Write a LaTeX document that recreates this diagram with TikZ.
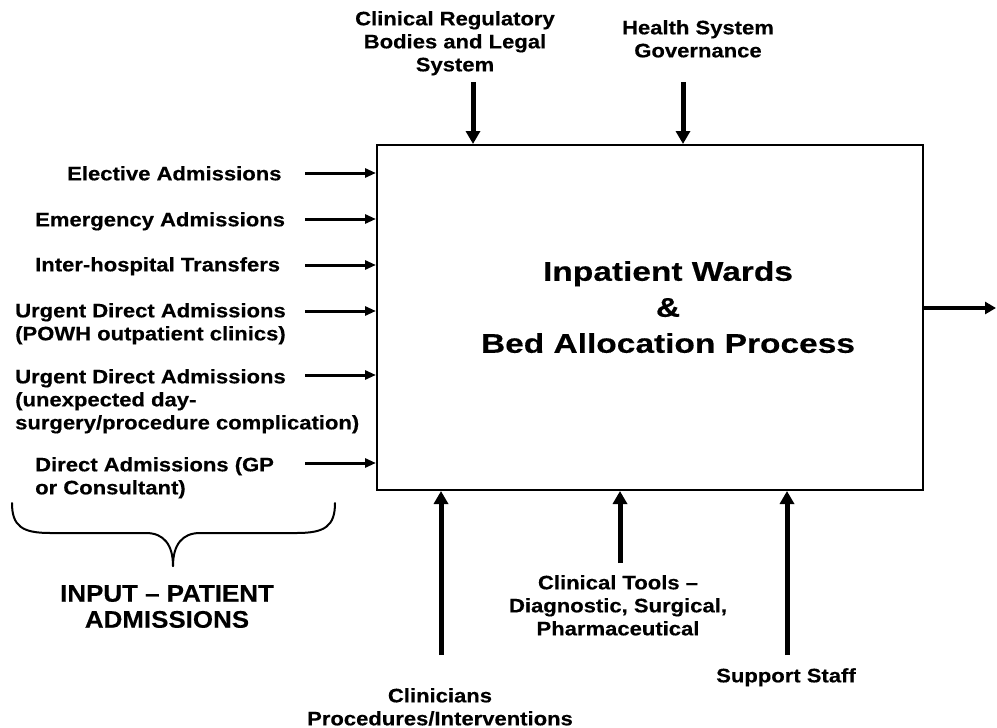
\documentclass[tikz,border=0pt]{standalone}
\usepackage{fontspec}
\setmainfont{Liberation Sans}
\newfontfamily\lblfont[FakeStretch=1.13,FakeBold=0.4]{Liberation Sans}
\newfontfamily\bigfont[FakeStretch=1.24,FakeBold=0.4]{Liberation Sans}
\newfontfamily\inpfont[FakeStretch=1.08,FakeBold=0.4]{Liberation Sans}
\usetikzlibrary{arrows.meta}
\begin{document}
\begin{tikzpicture}[x=1pt,y=-1pt,
  lbl/.style={inner sep=0pt, font=\lblfont\bfseries\fontsize{19.5}{23}\selectfont},
  lblL/.style={lbl, anchor=north west, align=left},
  lblC/.style={lbl, anchor=north, align=center},
  bigtxt/.style={inner sep=0pt, anchor=north, align=center, font=\bigfont\bfseries\fontsize{27}{36}\selectfont},
  inptxt/.style={inner sep=0pt, anchor=north, align=center, font=\inpfont\bfseries\fontsize{24}{26}\selectfont},
  procbox/.style={draw, line width=2pt, inner sep=0pt, minimum width=546pt, minimum height=345pt},
  inarrow/.style={line width=3pt, -{Triangle[length=11pt,width=9pt]}},
  ctlarrow/.style={line width=5pt, -{Triangle[length=13pt,width=14pt]}},
  outarrow/.style={line width=4pt, -{Triangle[length=11pt,width=12pt]}},
  bracestyle/.style={line width=2pt, line cap=round, line join=round}
]
\useasboundingbox (0,0) rectangle (997,728);

% main process box
\node[procbox] (box) at (650,317.5) {};
\node[bigtxt] (title) at (668,261) {Inpatient Wards\\\&\\Bed Allocation Process};

% input labels
\node[lblL] (elec) at (67,166) {Elective Admissions};
\node[lblL] (emer) at (35,212) {Emergency Admissions};
\node[lblL] (inter) at (35,257) {Inter-hospital Transfers};
\node[lblL] (urg1) at (15,303) {Urgent Direct Admissions\\(POWH outpatient clinics)};
\node[lblL] (urg2) at (15,369) {Urgent Direct Admissions\\(unexpected day-\\surgery/procedure complication)};
\node[lblL] (direct) at (35,457) {Direct  Admissions (GP\\or Consultant)};

% input arrows
\coordinate (i1) at (305,173);
\coordinate (i2) at (305,219);
\coordinate (i3) at (305,265);
\coordinate (i4) at (305,311);
\coordinate (i5) at (305,375);
\coordinate (i6) at (305,463);
\foreach \c in {i1,i2,i3,i4,i5,i6}
  \draw[inarrow] (\c) -- (\c -| box.west);

% brace
\coordinate (brL) at (12,503);
\coordinate (brR) at (335,503);
\coordinate (brT) at (173,566);
\draw[bracestyle] (brL) .. controls (12,526) and (22,533) .. (50,533) -- (146,533)
  .. controls (164,533) and (173,545) .. (brT);
\draw[bracestyle] (brR) .. controls (335,526) and (325,533) .. (297,533) -- (200,533)
  .. controls (182,533) and (173,545) .. (brT);
\node[inptxt] (inp) at (167,585) {INPUT – PATIENT\\ADMISSIONS};

% controls (top)
\node[lblC] (reg) at (455,11) {Clinical Regulatory\\Bodies and Legal\\System};
\node[lblC] (gov) at (698,20) {Health System\\Governance};
\coordinate (t1) at (473,82);
\coordinate (t2) at (683,82);
\draw[ctlarrow] (t1) -- (t1 |- box.north);
\draw[ctlarrow] (t2) -- (t2 |- box.north);

% mechanisms (bottom)
\coordinate (b1) at (441,655);
\coordinate (b2) at (620,563);
\coordinate (b3) at (787,655);
\draw[ctlarrow] (b1) -- (b1 |- box.south);
\draw[ctlarrow] (b2) -- (b2 |- box.south);
\draw[ctlarrow] (b3) -- (b3 |- box.south);
\node[lblC] (tools) at (618,575) {Clinical Tools –\\Diagnostic, Surgical,\\Pharmaceutical};
\node[lblC] (staff) at (786,668) {Support Staff};
\node[lblC] (clin) at (440,688) {Clinicians\\Procedures/Interventions};

% output
\coordinate (out) at (996,308);
\draw[outarrow] (box.east |- out) -- (out);
\end{tikzpicture}
\end{document}
